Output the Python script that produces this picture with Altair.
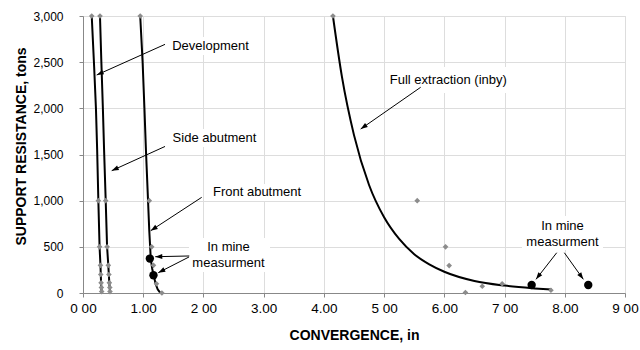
import math
import altair as alt
import pandas as pd

# ---------------- data ----------------
# Development (fitted line and measured points)
dev_line_x = [0.145, 0.185, 0.215, 0.235, 0.255, 0.275, 0.29, 0.30, 0.31]
dev_line_y = [3000, 2450, 2000, 1550, 1000, 500, 300, 110, 0]
dev_pts_x = [0.145, 0.255, 0.275, 0.29, 0.295, 0.30, 0.305, 0.31]
dev_pts_y = [3000, 1000, 500, 300, 200, 110, 60, 15]

# Side abutment
side_line_x = [0.282, 0.305, 0.33, 0.35, 0.377, 0.40, 0.42, 0.437, 0.45]
side_line_y = [3000, 2500, 2000, 1550, 1000, 500, 300, 110, 0]
side_pts_x = [0.282, 0.377, 0.40, 0.42, 0.43, 0.437, 0.445, 0.448]
side_pts_y = [3000, 1000, 500, 300, 200, 110, 60, 15]

# Front abutment
front_line_x = [0.95, 0.99, 1.02, 1.045, 1.08, 1.10, 1.115, 1.125, 1.15, 1.175, 1.205, 1.24, 1.28]
front_line_y = [3000, 2500, 2000, 1550, 1000, 680, 500, 370, 260, 190, 100, 40, 5]
front_pts_x = [0.95, 1.10, 1.14, 1.17, 1.19, 1.22, 1.31]
front_pts_y = [3000, 1000, 500, 300, 200, 100, 0]
front_mine_x = [1.11, 1.17]
front_mine_y = [373, 192]

# Full extraction (inby)
full_line_x = [4.15, 4.3, 4.5, 4.75, 5.0, 5.25, 5.5, 5.75, 6.0, 6.5, 7.0, 7.5, 7.78]
full_line_y = [3000, 2340, 1710, 1170, 820, 585, 420, 310, 230, 130, 80, 50, 37]
full_pts_x = [4.15, 5.55, 6.02, 6.08, 6.35, 6.63, 6.96, 7.77]
full_pts_y = [3000, 1000, 500, 297, 5, 73, 100, 30]
full_mine_x = [7.45, 8.39]
full_mine_y = [87, 87]

# Axis tick labels (as printed in the reference)
x_tick_values = [0, 1, 2, 3, 4, 5, 6, 7, 8, 9]
x_tick_labels = ["0 00", "1.00", "2 00", "3.00", "4.00", "5 00", "6.00", "7 00", "8.00", "9 00"]
y_tick_values = [0, 500, 1000, 1500, 2000, 2500, 3000]

# Annotations (y is the first text line)
label_text = ["Development", "Side abutment", "Front abutment", "In mine\nmeasurment",
              "Full extraction (inby)", "In mine\nmeasurment"]
label_x = [2.117, 2.184, 2.89, 2.416, 6.066, 7.962]
label_y = [2678, 1682, 1091, 501, 2307, 726]
box_x1 = [1.411, 1.428, 2.109, 1.76, 5.015, 7.29]
box_x2 = [2.823, 2.939, 3.67, 3.105, 7.124, 8.635]
box_y1 = [2578, 1581, 996, 227, 2166, 466]
box_y2 = [2772, 1776, 1180, 596, 2448, 834]

arrow_x1 = [1.362, 1.362, 1.971, 1.765, 1.76, 5.607, 7.866, 7.993]
arrow_y1 = [2693, 1587, 1036, 401, 390, 2228, 436, 436]
arrow_x2 = [0.2275, 0.477, 1.124, 1.20, 1.25, 4.611, 7.522, 8.308]
arrow_y2 = [2361, 1325, 675, 393, 220, 1776, 148, 148]

# ---------------- layout ----------------
W, H = 542, 277
XMAX, YMAX = 9, 3000
FONT = "Liberation Sans, Arial, sans-serif"

lines = pd.concat([
    pd.DataFrame({"x": dev_line_x, "y": dev_line_y, "s": "dev"}),
    pd.DataFrame({"x": side_line_x, "y": side_line_y, "s": "side"}),
    pd.DataFrame({"x": front_line_x, "y": front_line_y, "s": "front"}),
])
full_line = pd.DataFrame({"x": full_line_x, "y": full_line_y})
gray = pd.DataFrame({
    "x": dev_pts_x + side_pts_x + front_pts_x + full_pts_x,
    "y": dev_pts_y + side_pts_y + front_pts_y + full_pts_y,
})
black = pd.DataFrame({"x": front_mine_x + full_mine_x, "y": front_mine_y + full_mine_y})
labels = pd.DataFrame({"x": label_x, "y": label_y, "t": label_text})
boxes = pd.DataFrame({"x": box_x1, "x2": box_x2, "y": box_y1, "y2": box_y2})

sx, sy = W / XMAX, H / YMAX
angles = []
for a, b, c, d in zip(arrow_x1, arrow_y1, arrow_x2, arrow_y2):
    dx = (c - a) * sx
    dy = -(d - b) * sy
    angles.append(math.degrees(math.atan2(dx, -dy)) % 360)
arrows = pd.DataFrame({"x": arrow_x1, "y": arrow_y1, "x2": arrow_x2, "y2": arrow_y2, "ang": angles})

x_scale = alt.Scale(domain=[0, XMAX], nice=False, zero=False)
y_scale = alt.Scale(domain=[0, YMAX], nice=False)

label_expr = "[" + ",".join("'" + s + "'" for s in x_tick_labels) + "][datum.value]"
x_axis = alt.Axis(values=x_tick_values, labelExpr=label_expr, title="CONVERGENCE, in",
                  labelFontSize=13.5, labelPadding=4, tickSize=4, labelFont=FONT,
                  titleFont=FONT, titleFontSize=14, titleFontWeight="bold",
                  titleBaseline="alphabetic", titleY=46, labelFlush=False)
y_axis = alt.Axis(values=y_tick_values, format=",.0f", title="SUPPORT RESISTANCE, tons",
                  labelFontSize=12, labelPadding=16, tickSize=4, labelFont=FONT,
                  titleFont=FONT, titleFontSize=14, titleFontWeight="bold",
                  titleBaseline="alphabetic", titleX=-58, titleY=130, titleAngle=-90,
                  titleAlign="center", labelFlush=False)


def X(f="x"):
    return alt.X(f"{f}:Q", scale=x_scale, axis=x_axis)


def Y(f="y"):
    return alt.Y(f"{f}:Q", scale=y_scale, axis=y_axis)


box_layer = alt.Chart(boxes).mark_rect(fill="white", stroke=None).encode(
    x=X(), x2="x2:Q", y=Y(), y2="y2:Q")

line_layer = alt.Chart(lines).mark_line(color="black", strokeWidth=2).encode(
    x=X(), y=Y(), detail="s:N", order="x:Q")

full_layer = alt.Chart(full_line).mark_line(color="black", strokeWidth=2,
                                            interpolate="monotone").encode(x=X(), y=Y())

gray_layer = alt.Chart(gray).mark_point(shape="diamond", filled=True, color="#8c8c8c",
                                        size=32, opacity=1).encode(x=X(), y=Y())

black_layer = alt.Chart(black).mark_point(shape="circle", filled=True, color="black",
                                          size=70, opacity=1).encode(x=X(), y=Y())

arrow_rule = alt.Chart(arrows).mark_rule(color="black", strokeWidth=1).encode(
    x=X(), y=Y(), x2="x2:Q", y2="y2:Q")

arrow_head = alt.Chart(arrows).mark_point(shape="M0,0L-0.7,2L0.7,2Z", filled=True,
                                          color="black", size=49, opacity=1).encode(
    x=alt.X("x2:Q", scale=x_scale, axis=x_axis),
    y=alt.Y("y2:Q", scale=y_scale, axis=y_axis),
    angle=alt.Angle("ang:Q", scale=None))

text_layer = alt.Chart(labels).mark_text(font=FONT, fontSize=13, color="black",
                                         align="center", baseline="middle",
                                         lineBreak="\n", lineHeight=16.5).encode(
    x=X(), y=Y(), text="t:N")

chart = alt.layer(box_layer, line_layer, full_layer, gray_layer, black_layer,
                  arrow_rule, arrow_head, text_layer).properties(
    width=W, height=H,
    autosize=alt.AutoSizeParams(type="none"),
    padding={"left": 83, "top": 16, "right": 15, "bottom": 57},
).configure_view(stroke="black", strokeWidth=2.5).configure_axis(
    domain=False, grid=True, gridColor="#a0a0a0", gridWidth=1,
    tickColor="black", labelColor="black", titleColor="black",
).configure(background="white")

chart.save("out.html", embed_options={"renderer": "svg", "actions": False})
